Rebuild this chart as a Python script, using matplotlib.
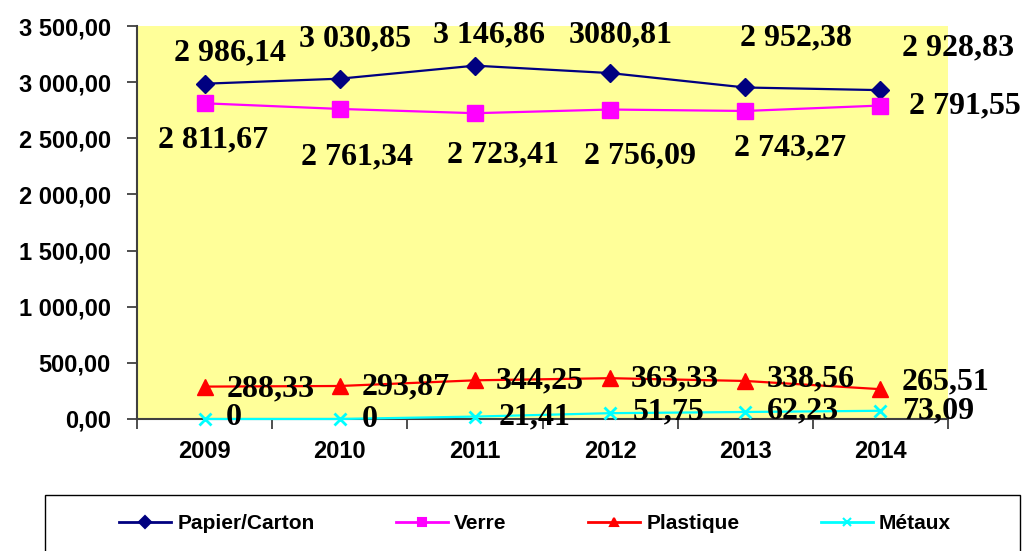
import matplotlib
matplotlib.use("Agg")
import matplotlib.pyplot as plt
from matplotlib.lines import Line2D
from matplotlib.patches import Rectangle
from matplotlib.ticker import FuncFormatter
import numpy as np

years = ["2009", "2010", "2011", "2012", "2013", "2014"]
papier = [2986.14, 3030.85, 3146.86, 3080.81, 2952.38, 2928.83]
verre = [2811.67, 2761.34, 2723.41, 2756.09, 2743.27, 2791.55]
plastique = [288.33, 293.87, 344.25, 363.33, 338.56, 265.51]
metaux = [0, 0, 21.41, 51.75, 62.23, 73.09]

papier_lbl = ["2 986,14", "3 030,85", "3 146,86", "3080,81", "2 952,38", "2 928,83"]
verre_lbl = ["2 811,67", "2 761,34", "2 723,41", "2 756,09", "2 743,27", "2 791,55"]
plastique_lbl = ["288,33", "293,87", "344,25", "363,33", "338,56", "265,51"]
metaux_lbl = ["0", "0", "21,41", "51,75", "62,23", "73,09"]

# label offsets (pixels) from each point, placed by hand like in the original
papier_off = [(25, 31), (15, 40), (14, 31), (11, 38), (51, 50), (78, 42)]
verre_off = [(8, -37), (17, -48), (28, -42), (30, -46), (45, -37), (84, 0)]
plastique_off = [(66, -2), (66, -1), (65, -1), (65, -1), (65, 2), (65, 7)]
metaux_off = [(29, 1), (30, -1), (60, 0), (58, 1), (58, 1), (58, 0)]

fig = plt.figure(figsize=(10.25, 5.51), dpi=100)
ax = fig.add_axes([0.1337, 0.2396, 0.7912, 0.7132])
ax.set_facecolor("#FFFF99")

x = np.arange(len(years))
series = [
    ("Papier/Carton", papier, papier_lbl, papier_off, "#000080", "D", 9),
    ("Verre", verre, verre_lbl, verre_off, "#FF00FF", "s", 11),
    ("Plastique", plastique, plastique_lbl, plastique_off, "#FF0000", "^", 11),
    ("Métaux", metaux, metaux_lbl, metaux_off, "#00FFFF", "x", 9),
]

handles = []
for name, vals, lbls, offs, col, mk, ms in series:
    ax.plot(x, vals, color=col, marker=mk, markersize=ms, lw=1.6,
            markeredgewidth=2 if mk == "x" else 1, clip_on=False, zorder=3)
    for xi, v, t, (dx, dy) in zip(x, vals, lbls, offs):
        ax.annotate(t, (xi, v), xytext=(dx, dy), textcoords="offset pixels",
                    ha="center", va="center", fontsize=23, fontweight="bold",
                    family="Liberation Serif", color="black", zorder=4,
                    annotation_clip=False)
    handles.append(Line2D([], [], color=col, marker=mk, lw=2,
                          markersize=6, markeredgewidth=1.5, label=name))

ax.set_xlim(-0.5, 5.5)
ax.set_ylim(0, 3500)
ax.set_yticks(np.arange(0, 3501, 500))
ax.yaxis.set_major_formatter(FuncFormatter(
    lambda v, p: "{:,.2f}".format(v).replace(",", " ").replace(".", ",")))
ax.set_xticks(x)
ax.set_xticklabels(years)
ax.set_xticks(np.arange(-0.5, 6, 1), minor=True)

for s in ["top", "right"]:
    ax.spines[s].set_visible(False)
for s in ["left", "bottom"]:
    ax.spines[s].set_color("#404040")
    ax.spines[s].set_linewidth(1.5)

ax.tick_params(axis="y", length=7, width=1.3, color="#404040", pad=12)
ax.tick_params(axis="x", which="major", length=0, pad=15)
ax.tick_params(axis="x", which="minor", length=7, width=1.3, color="#404040")
for lab in ax.get_yticklabels() + ax.get_xticklabels():
    lab.set_family("Liberation Sans")
    lab.set_fontweight("bold")
    lab.set_fontsize(17)

# legend frame running off the bottom edge
fig.add_artist(Rectangle((0.044, -0.05), 0.951, 0.1516, transform=fig.transFigure,
                         facecolor="white", edgecolor="black", lw=1.0))
fig.legend(handles=handles, loc="center", ncol=4,
           bbox_to_anchor=(0.522, 0.05), frameon=False,
           handlelength=2.5, handletextpad=0.3, columnspacing=3.9,
           prop={"family": "Liberation Sans", "weight": "bold", "size": 15})

fig.savefig("out.png", dpi=100)
